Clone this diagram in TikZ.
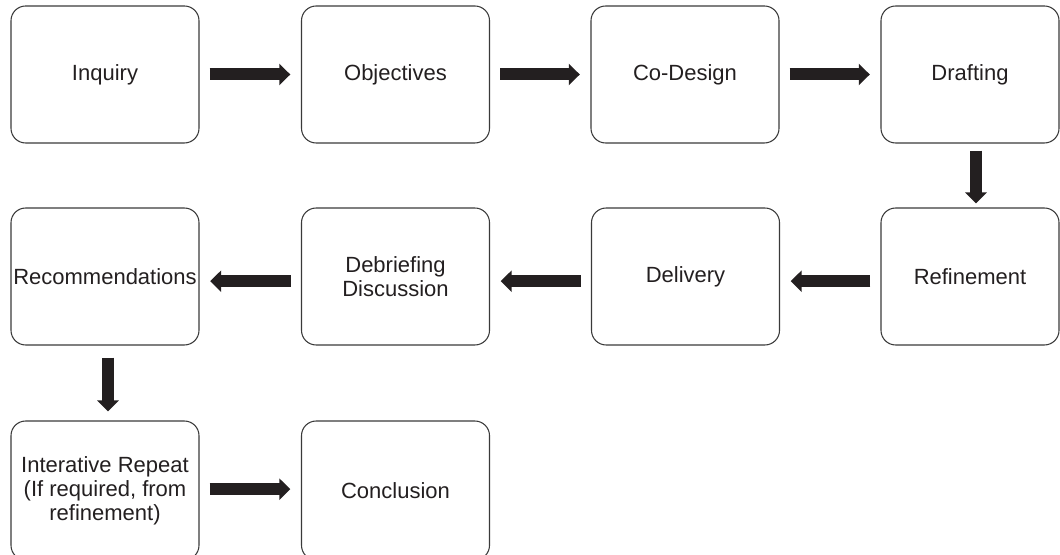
\documentclass[tikz,border=0pt]{standalone}
\usepackage{fontspec}
\setmainfont{Liberation Sans}
\usetikzlibrary{arrows.meta}
\definecolor{ink}{HTML}{231F20}
\definecolor{edge}{HTML}{3A3A3A}
\newlength{\pxu}
\setlength{\pxu}{0.75pt}
\begin{document}
\begin{tikzpicture}[x=0.75pt,y=-0.75pt,
  stepbox/.style={draw=edge, line width=0.8pt, rounded corners=11pt,
    minimum width=188\pxu, minimum height=137\pxu, inner sep=0pt,
    align=center, text=ink, font=\fontsize{16.5}{18}\selectfont},
  narrowbox/.style={stepbox, minimum width=178\pxu},
  bigarrow/.style={draw=ink, line width=9pt,
    -{Triangle[length=8.25pt,width=15.75pt]}, shorten <=7.5pt, shorten >=8pt}
]
\useasboundingbox (0,0) rectangle (1060,555);
\clip (0,0) rectangle (1060,555);
% row 1
\node[stepbox] (inquiry) at (105,74.5) {Inquiry};
\node[stepbox] (objectives) at (395.5,74.5) {Objectives};
\node[stepbox] (codesign) at (685,74.5) {Co-Design};
\node[narrowbox] (drafting) at (970,74.5) {Drafting};
% row 2
\node[narrowbox] (refinement) at (970,276.5) {Refinement};
\node[stepbox] (delivery) at (685.5,276.5) {Delivery};
\node[stepbox] (debriefing) at (395.5,276.5) {Debriefing\\Discussion};
\node[stepbox] (recommendations) at (105,276.5) {Recommendations};
% row 3
\node[stepbox, minimum height=139\pxu] (interative) at (105,490.5) {Interative Repeat\\(If required, from\\refinement)};
\node[stepbox, minimum height=139\pxu] (conclusion) at (395.5,490.5) {Conclusion};
% connectors
\draw[bigarrow] (inquiry) -- (objectives);
\draw[bigarrow] (objectives) -- (codesign);
\draw[bigarrow] (codesign) -- (drafting);
\draw[bigarrow, shorten <=5.25pt, shorten >=3pt] ([xshift=4.5pt]drafting.south) -- ([xshift=4.5pt]refinement.north);
\draw[bigarrow] ([yshift=-3.5pt]refinement.west) -- ([yshift=-3.5pt]delivery.east);
\draw[bigarrow] ([yshift=-3.5pt]delivery.west) -- ([yshift=-3.5pt]debriefing.east);
\draw[bigarrow] ([yshift=-3.5pt]debriefing.west) -- ([yshift=-3.5pt]recommendations.east);
\draw[bigarrow, shorten <=9pt, shorten >=6.75pt] ([xshift=2.25pt]recommendations.south) -- ([xshift=2.25pt]interative.north);
\draw[bigarrow] ([yshift=1pt]interative.east) -- ([yshift=1pt]conclusion.west);
\end{tikzpicture}
\end{document}
